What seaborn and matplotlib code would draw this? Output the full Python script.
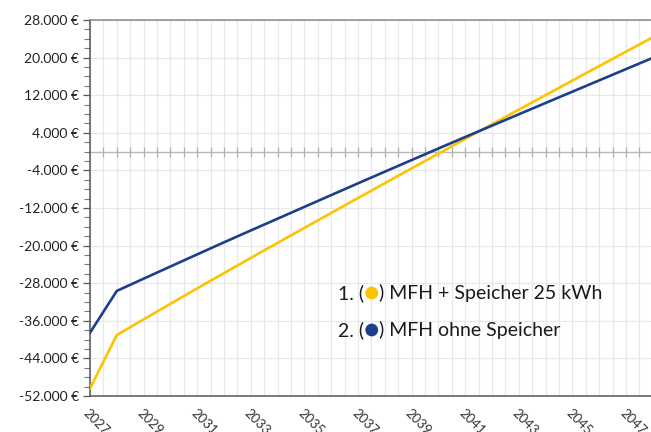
import numpy as np
import pandas as pd
import seaborn as sns
import matplotlib.pyplot as plt
from matplotlib.ticker import FuncFormatter, MultipleLocator
from matplotlib.offsetbox import TextArea, DrawingArea, HPacker, AnnotationBbox
from matplotlib.patches import Circle

# Kumulierter Cashflow je Jahr
years = list(range(2027, 2049))
mit_speicher = [-50400, -39030, -35700, -32400, -29100, -25850, -22620, -19420,
                -16230, -13050, -9880, -6720, -3570, -430, 2700, 5820,
                8930, 12030, 15120, 18200, 21270, 24330]
ohne_speicher = [-38540, -29640, -27040, -24450, -21870, -19300, -16780, -14270,
                 -11760, -9250, -6750, -4270, -1800, 660, 3110, 5530,
                 7940, 10350, 12760, 15160, 17560, 19960]
series_names = ["MFH + Speicher 25 kWh", "MFH ohne Speicher"]
colors = ["#FDC300", "#1B3F8B"]
year_labels = list(range(2027, 2048, 2))

df = pd.DataFrame({
    "Jahr": years * 2,
    "Wert": mit_speicher + ohne_speicher,
    "Variante": [series_names[0]] * len(years) + [series_names[1]] * len(years),
})

sns.set_theme(style="white")
plt.rcParams["font.family"] = ["Lato", "DejaVu Sans"]

fig = plt.figure(figsize=(6.51, 4.32), dpi=100)
ax = fig.add_axes([90 / 651, 1 - 396 / 432, 1 - 90 / 651, (396 - 20) / 432])

sns.lineplot(data=df, x="Jahr", y="Wert", hue="Variante", palette=colors,
             linewidth=1.9, ax=ax, legend=False, zorder=3)

ax.set_xlim(2027, 2047.93)
ax.set_ylim(-52000, 28000)

# Raster: halbe Jahre vertikal, 8.000 € horizontal
ax.set_xticks(year_labels)
ax.set_xticks(np.arange(2027, 2048, 0.5), minor=True)
ax.set_yticks(np.arange(-52000, 28001, 8000))
ax.yaxis.set_minor_locator(MultipleLocator(2000))
ax.grid(which="both", axis="x", color="#e8e8e8", linewidth=0.9)
ax.grid(which="major", axis="y", color="#e8e8e8", linewidth=0.9)

# Nulllinie mit kleinen Strichen
ax.axhline(0, color="#b8b8b8", linewidth=1.0, zorder=2)
tick_x = np.arange(2027.5, 2048, 0.5)
ax.plot(tick_x, np.zeros_like(tick_x), linestyle="none", marker="|",
        markersize=7, color="#b0b0b0", markeredgewidth=0.9, zorder=2)

ax.yaxis.set_major_formatter(FuncFormatter(lambda v, p: f"{v:,.0f}".replace(",", ".") + " €"))
ax.set_xticklabels([str(y) for y in year_labels], rotation=-45, ha="left",
                   va="top", rotation_mode="anchor")
ax.tick_params(axis="x", which="both", length=0, pad=8, labelsize=9.5, labelcolor="#333333")
ax.tick_params(axis="y", which="major", direction="out", left=True, length=5,
               width=0.9, color="#555555", labelsize=10, labelcolor="#222222", pad=3)
ax.tick_params(axis="y", which="minor", direction="out", left=True, length=4,
               width=0.8, color="#777777")

ax.set_xlabel("")
ax.set_ylabel("")
for side in ["left", "bottom"]:
    ax.spines[side].set_color("#555555")
    ax.spines[side].set_linewidth(1.1)
ax.spines["top"].set_color("#888888")
ax.spines["top"].set_linewidth(1.1)
ax.spines["right"].set_visible(False)

# eigene Legende: "1. (●) Name"
legend_y = [293, 330]
for i, (name, col) in enumerate(zip(series_names, colors)):
    da = DrawingArea(10, 10, 0, 0)
    da.add_artist(Circle((5, 5), 4.6, facecolor=col, edgecolor="none"))
    props = dict(fontsize=14, color="#1a1a1a")
    box = HPacker(children=[TextArea(f"{i + 1}. (", textprops=props), da,
                            TextArea(f") {name}", textprops=props)],
                  align="center", pad=0, sep=0.5)
    ab = AnnotationBbox(box, (338 / 651, 1 - legend_y[i] / 432), xycoords="figure fraction",
                        box_alignment=(0, 0.5), frameon=False, pad=0)
    fig.add_artist(ab)

fig.savefig("out.png", dpi=100)
